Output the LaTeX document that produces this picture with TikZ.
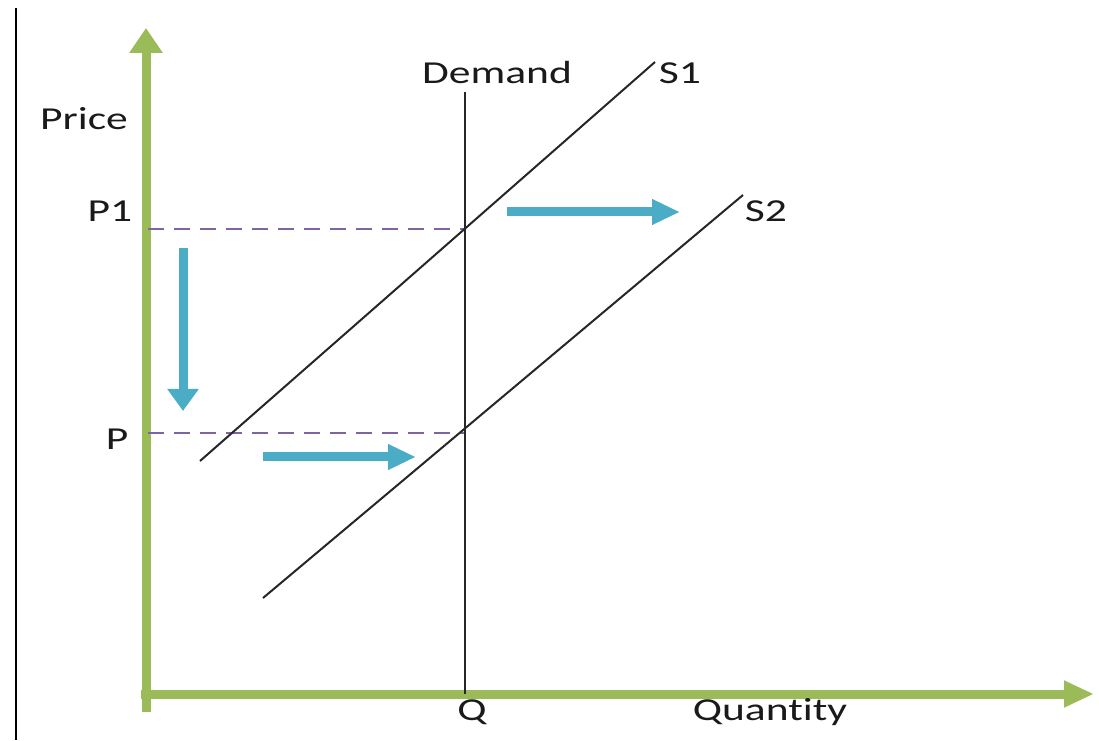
\documentclass[tikz,border=0pt]{standalone}
\usepackage{fontspec}
\setmainfont{Carlito}[RawFeature={-liga;-clig;-calt}]
\usetikzlibrary{arrows.meta,positioning}
\definecolor{AxisGreen}{HTML}{9BBB59}
\definecolor{ShiftBlue}{HTML}{4BACC6}
\definecolor{GuidePurple}{HTML}{8064A2}
\definecolor{DarkText}{HTML}{1A1A1A}
\newcommand{\wtext}[1]{\scalebox{1.36}[1]{#1}}
\tikzset{
  haxis/.style={AxisGreen, line width=4.5pt, -{Triangle[length=15pt,width=12.5pt]}},
  vaxis/.style={AxisGreen, line width=4.5pt, -{Triangle[length=12.5pt,width=16pt]}},
  hshift/.style={ShiftBlue, line width=4.5pt, -{Triangle[length=14pt,width=12pt]}},
  vshift/.style={ShiftBlue, line width=4.5pt, -{Triangle[length=11pt,width=15pt]}},
  guide/.style={GuidePurple, line width=1.3pt, dash pattern=on 8pt off 5pt},
  curve/.style={black!85, line width=1pt},
  lbl/.style={font=\fontsize{16}{19}\selectfont, text=DarkText, inner sep=0pt, anchor=base}
}
\begin{document}
\begin{tikzpicture}[x=.5pt,y=.5pt]
\useasboundingbox (0,0) rectangle (1099,740);
\draw[black, line width=1.2pt] (16,732) -- (16,0);
\coordinate (vbot) at (146,28);
\coordinate (vtop) at (146,712);
\coordinate (hleft) at (141,46);
\coordinate (hright) at (1094,46);
\draw[vaxis] (vbot) -- (vtop);
\draw[haxis] (hleft) -- (hright);
\coordinate (dtop) at (465,648);
\coordinate (dbot) at (465,46);
\coordinate (e1) at (465,511);
\coordinate (e2) at (465,307);
\coordinate (p1y) at (148,511);
\coordinate (py) at (148,307);
\draw[guide] (p1y) -- (e1);
\draw[guide] (py) -- (e2);
\draw[curve] (dtop) -- (dbot);
\coordinate (s1a) at (200,279);
\coordinate (s1b) at (655,678);
\coordinate (s2a) at (263,142);
\coordinate (s2b) at (743,545);
\draw[curve] (s1a) -- (s1b);
\draw[curve] (s2a) -- (s2b);
\node[lbl] (demand) at (497,656) {\wtext{Demand}};
\node[lbl] (s1) at (680,656) {\wtext{S1}};
\node[lbl] (s2) at (766,518) {\wtext{S2}};
\node[lbl] (price) at (84,610) {\wtext{Price}};
\node[lbl] (p1) at (110,518) {\wtext{P1}};
\node[lbl] (p) at (117,290) {\wtext{P}};
\node[lbl] (q) at (472,20) {\wtext{Q}};
\node[lbl] (quantity) at (770,20) {\wtext{Quantity}};
\coordinate (ua) at (507,528);
\coordinate (ub) at (680,528);
\coordinate (la) at (263,283);
\coordinate (lb) at (416,283);
\coordinate (da) at (183,492);
\coordinate (db) at (183,329);
\draw[hshift] (ua) -- (ub);
\draw[hshift] (la) -- (lb);
\draw[vshift] (da) -- (db);
\end{tikzpicture}
\end{document}
